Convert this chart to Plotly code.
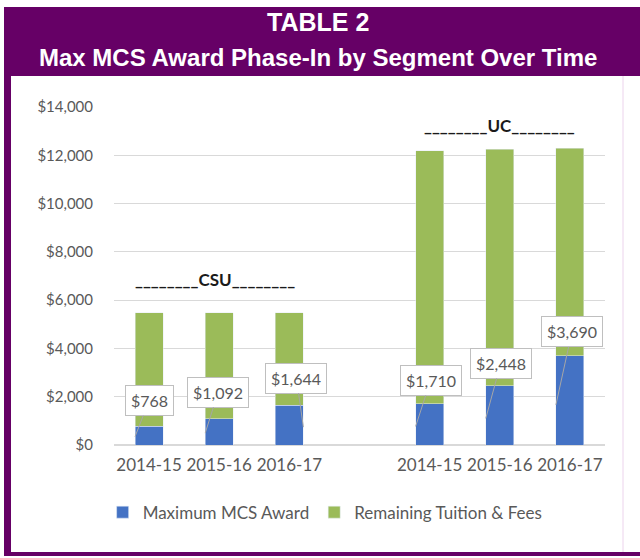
import plotly.graph_objects as go

# Segment data
years = ["2014-15", "2015-16", "2016-17"]
segments = ["CSU", "UC"]
max_award = {"CSU": [768, 1092, 1644], "UC": [1710, 2448, 3690]}
tuition_fees = {"CSU": [5472, 5472, 5472], "UC": [12192, 12240, 12294]}

BLUE = "#4472C4"
GREEN = "#9BBB59"
PURPLE = "#660066"
GRAY = "#595959"
FONT = "Lato"

# x positions: one empty slot between the two segment groups
slot = len(years) + 1
xs, award_vals, rest_vals, ticktext = [], [], [], []
for i, seg in enumerate(segments):
    for j, yr in enumerate(years):
        xs.append(i * slot + j)
        award_vals.append(max_award[seg][j])
        rest_vals.append(tuition_fees[seg][j] - max_award[seg][j])
        ticktext.append(yr)

bar_w = 0.4

fig = go.Figure()
fig.add_trace(go.Bar(x=xs, y=award_vals, name="Maximum MCS Award",
                     marker_color=BLUE, width=bar_w))
fig.add_trace(go.Bar(x=xs, y=rest_vals, name="Remaining Tuition & Fees",
                     marker_color=GREEN, width=bar_w))

# callout labels (box offset in px, which side of bar the pointer hits)
callout_dx = [14, 13, -7, 15, 15, 16]
callout_dy = [-36, -41, -49, -46, -55, -73]
callout_side = [-1, -1, 1, -1, -1, -1]
annotations = []
for k, (x, v) in enumerate(zip(xs, award_vals)):
    annotations.append(dict(
        x=x + callout_side[k] * bar_w / 2, y=v * 0.45,
        ax=callout_dx[k], ay=callout_dy[k], axref="pixel", ayref="pixel",
        text=f"${v:,}", showarrow=True, arrowhead=0, arrowwidth=1,
        arrowcolor="#a6a6a6", standoff=0,
        bgcolor="white", bordercolor="#bfbfbf", borderwidth=1, borderpad=5,
        font=dict(family=FONT, size=16, color=GRAY),
    ))

# segment headers with underline
header_shift = [(-4, 33), (0, 23)]
for i, seg in enumerate(segments):
    top = max(tuition_fees[seg])
    annotations.append(dict(
        x=i * slot + (len(years) - 1) / 2, y=top,
        xshift=header_shift[i][0], yshift=header_shift[i][1],
        xref="x", yref="y", showarrow=False, yanchor="middle",
        text="<b>________" + seg + "________</b>",
        font=dict(family=FONT, size=17, color="#1a1a1a"),
    ))

# header titles
annotations.append(dict(x=0.415, y=1.0, xref="paper", yref="paper",
                        yshift=85, yanchor="middle", showarrow=False,
                        text="<b>TABLE 2</b>",
                        font=dict(family="Liberation Sans", size=25, color="white")))
annotations.append(dict(x=0.415, y=1.0, xref="paper", yref="paper",
                        yshift=50, yanchor="middle", showarrow=False,
                        text="<b>Max MCS Award Phase-In by Segment Over Time</b>",
                        font=dict(family="Liberation Sans", size=24, color="white")))

# frame: purple border + header band, white inner panel
L, R, T, B = 114, 35, 107, 113
W, H = 640, 558
pw, ph = W - L - R, H - T - B


def px(xp):
    return (xp - L) / pw


def py(yp):
    return (H - B - yp) / ph


shapes = [
    dict(type="rect", xref="paper", yref="paper", layer="below",
         x0=px(4), x1=px(640), y0=py(556), y1=py(7),
         fillcolor=PURPLE, line_width=0),
    dict(type="rect", xref="paper", yref="paper", layer="below",
         x0=px(11), x1=px(640), y0=py(552), y1=py(76),
         fillcolor="white", line_width=0),
    dict(type="line", xref="paper", yref="paper", layer="below",
         x0=px(623), x1=px(623), y0=py(552), y1=py(76),
         line=dict(color="#ecd3ec", width=1)),
]

fig.update_layout(
    width=W, height=H,
    margin=dict(l=L, r=R, t=T, b=B),
    barmode="stack",
    paper_bgcolor="white", plot_bgcolor="rgba(0,0,0,0)",
    font=dict(family=FONT, color=GRAY),
    showlegend=True,
    legend=dict(orientation="h", traceorder="normal", x=0.43,
                xanchor="center", y=-0.2, yanchor="middle",
                font=dict(family=FONT, size=17, color=GRAY),
                bgcolor="rgba(0,0,0,0)"),
    xaxis=dict(range=[-0.5, len(xs) + 0.5], tickvals=xs, ticktext=ticktext,
               showgrid=False, zeroline=False, showline=False,
               tickfont=dict(family=FONT, size=17, color=GRAY),
               ticklabelstandoff=8),
    yaxis=dict(range=[0, 14000], dtick=2000, tickprefix="$", tickformat=",",
               gridcolor="#d9d9d9", gridwidth=1, zeroline=True,
               zerolinecolor="#d9d9d9", showline=False,
               tickfont=dict(family=FONT, size=15, color=GRAY),
               ticklabelstandoff=20),
    annotations=annotations,
    shapes=shapes,
)

# drop the browser's default page margin so the 640x558 figure fills the window
fig.write_html("out.html", config={"displayModeBar": False},
               post_script="document.body.style.margin='0';")
